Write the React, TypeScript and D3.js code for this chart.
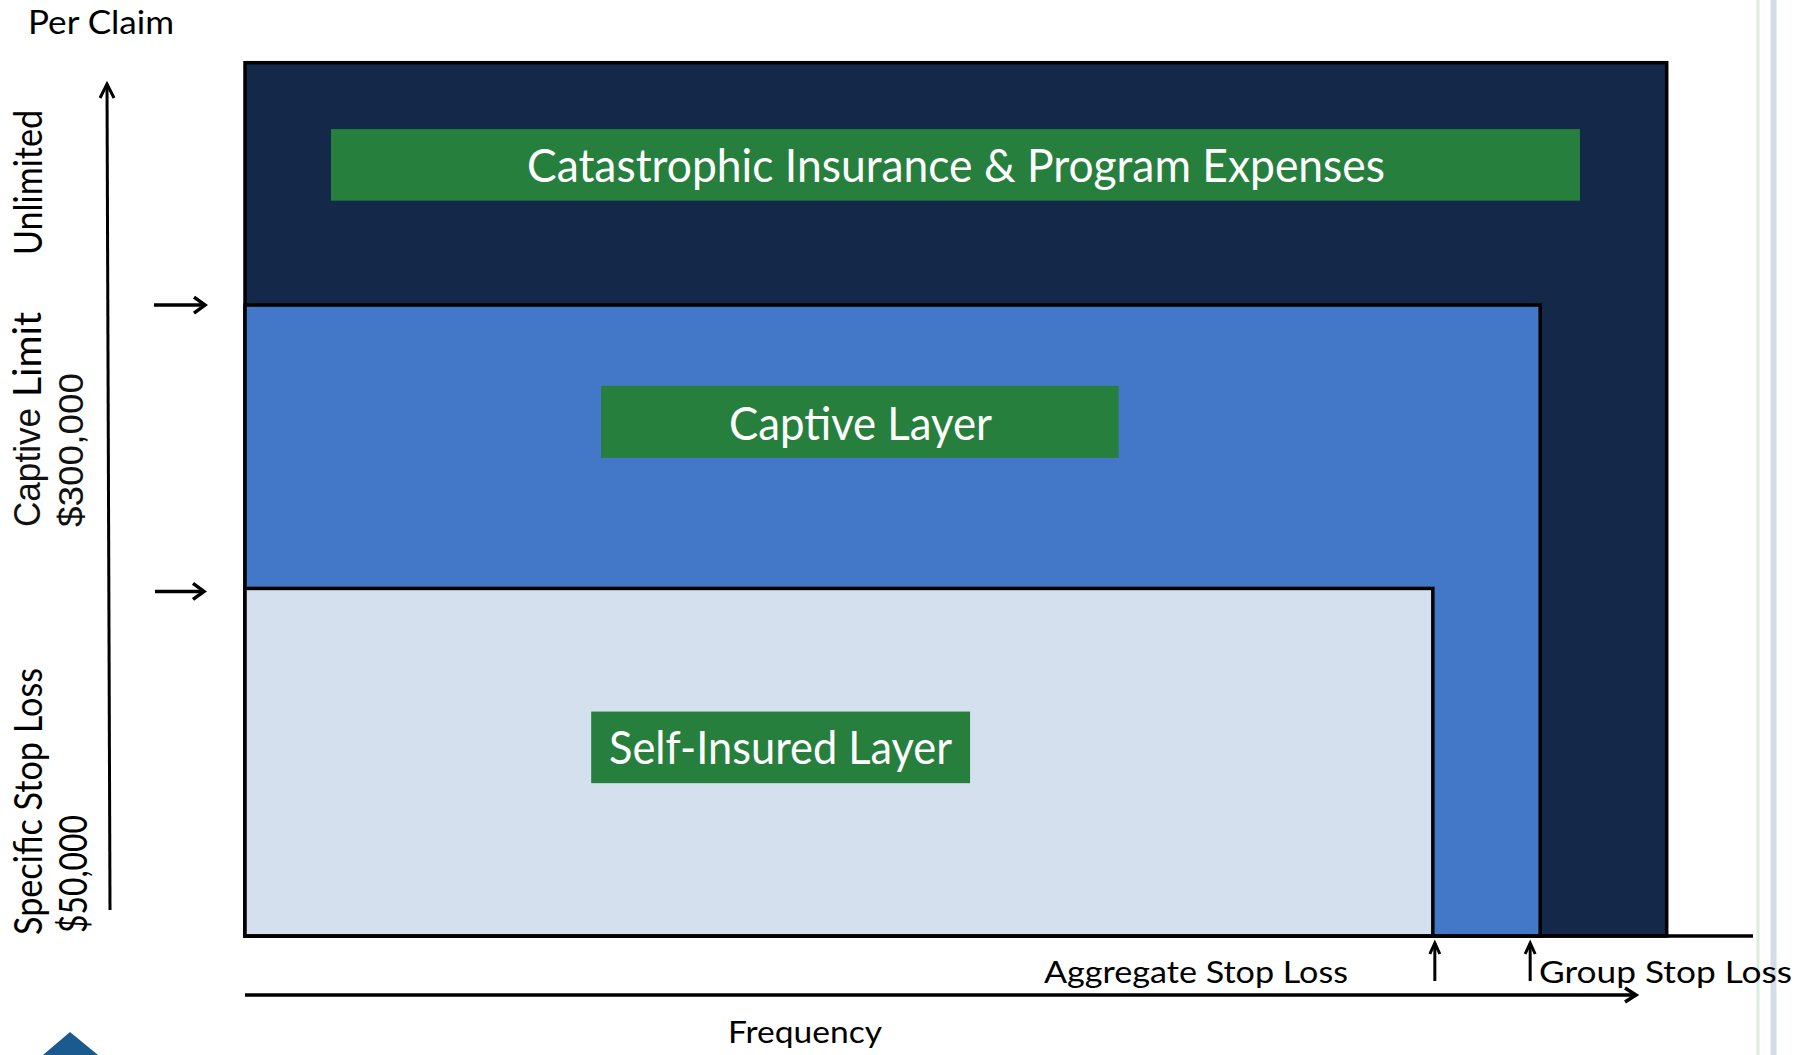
import { useEffect, useRef } from 'react'
import * as d3 from 'd3'

// layers, outermost first
const layerNames = ['Catastrophic Insurance & Program Expenses', 'Captive Layer', 'Self-Insured Layer']
const layerFrequencyEnd = [100, 91.1, 83.55] // share of frequency axis
const layerClaimTop = [100, 72.25, 39.8] // share of per-claim axis
const layerColors = ['#14284a', '#4378c9', '#d4e0ee']

const yAxisTitle = 'Per Claim'
const xAxisTitle = 'Frequency'
const aggregateLabel = 'Aggregate Stop Loss'
const groupLabel = 'Group Stop Loss'

const W = 1812
const H = 1055
const FONT = 'Lato, "Open Sans", sans-serif'
const HELV = '"Liberation Sans", Arial, sans-serif'

// label boxes in axis units: [x0, x1, yTop, yBottom]
const labelBoxes = [
  [6.05, 93.9, 92.4, 84.2],
  [25.05, 61.45, 63.0, 54.75],
  [24.35, 51.0, 25.7, 17.5],
]
// text placement inside boxes: [x, baseline, textLength]
const labelText = [
  [527, 182, 858],
  [729, 440, 263],
  [609, 764, 343],
]

export default function App() {
  const svgRef = useRef<SVGSVGElement>(null)

  useEffect(() => {
    if (!svgRef.current) return
    const svg = d3.select(svgRef.current)
    svg.selectAll('*').remove()

    const x = d3.scaleLinear().domain([0, 100]).range([245, 1666.7])
    const y = d3.scaleLinear().domain([0, 100]).range([936, 62.7])

    const drawArrow = (x1: number, y1: number, x2: number, y2: number, back = 11, half = 7, sw = 3.5) => {
      const ang = Math.atan2(y2 - y1, x2 - x1)
      const bx = x2 - back * Math.cos(ang)
      const by = y2 - back * Math.sin(ang)
      const px = -Math.sin(ang) * half
      const py = Math.cos(ang) * half
      svg.append('line')
        .attr('x1', x1).attr('y1', y1).attr('x2', x2).attr('y2', y2)
        .attr('stroke', '#000').attr('stroke-width', sw)
      svg.append('path')
        .attr('d', `M${bx + px},${by + py} L${x2},${y2} L${bx - px},${by - py}`)
        .attr('fill', 'none').attr('stroke', '#000').attr('stroke-width', sw)
        .attr('stroke-linejoin', 'miter')
    }

    // side decoration lines
    svg.append('rect').attr('x', 1756.5).attr('y', 0).attr('width', 3).attr('height', H).attr('fill', '#d9eee0')
    svg.append('rect').attr('x', 1770.5).attr('y', 0).attr('width', 6).attr('height', H).attr('fill', '#d3dde8')

    // nested layers
    layerNames.forEach((_, i) => {
      svg.append('rect')
        .attr('x', x(0))
        .attr('y', y(layerClaimTop[i]))
        .attr('width', x(layerFrequencyEnd[i]) - x(0))
        .attr('height', y(0) - y(layerClaimTop[i]))
        .attr('fill', layerColors[i])
        .attr('stroke', '#000')
        .attr('stroke-width', 3.5)
    })

    // base line
    svg.append('line')
      .attr('x1', x(0)).attr('x2', 1753).attr('y1', y(0)).attr('y2', y(0))
      .attr('stroke', '#000').attr('stroke-width', 3.5)

    // green label boxes
    labelBoxes.forEach((b, i) => {
      svg.append('rect')
        .attr('x', x(b[0])).attr('y', y(b[2]))
        .attr('width', x(b[1]) - x(b[0])).attr('height', y(b[3]) - y(b[2]))
        .attr('fill', '#267f3d')
      const [tx, ty, tl] = labelText[i]
      svg.append('text')
        .attr('x', tx).attr('y', ty)
        .attr('textLength', tl).attr('lengthAdjust', 'spacingAndGlyphs')
        .attr('font-family', FONT).attr('font-size', 46).attr('fill', '#fff')
        .text(layerNames[i])
    })

    // axes arrows
    drawArrow(110, 910, 107, 84, 14, 7, 3)
    drawArrow(x(0), 995, 1636, 995, 11, 7, 3.5)
    drawArrow(154, y(layerClaimTop[1]), 205, y(layerClaimTop[1]), 11, 8)
    drawArrow(155, y(layerClaimTop[2]) + 3, 204, y(layerClaimTop[2]) + 3, 11, 8)
    drawArrow(x(layerFrequencyEnd[2]) + 2, 981, x(layerFrequencyEnd[2]) + 2, 943, 11, 5, 3)
    drawArrow(x(layerFrequencyEnd[1]) - 10, 981, x(layerFrequencyEnd[1]) - 10, 943, 11, 5, 3)

    const label = (t: string, tx: number, ty: number, size: number, len: number, family = FONT, rot = false, fill = '#000') => {
      svg.append('text')
        .attr('transform', rot ? `translate(${tx},${ty}) rotate(-90)` : `translate(${tx},${ty})`)
        .attr('textLength', len).attr('lengthAdjust', 'spacingAndGlyphs')
        .attr('font-family', family).attr('font-size', size).attr('fill', fill)
        .text(t)
    }

    label(yAxisTitle, 28, 34, 32, 146)
    label('Unlimited', 42, 255, 38, 145, FONT, true)
    label('Captive', 40, 527, 36, 119, HELV, true, '#111')
    label('Limit', 41, 397, 38, 85, FONT, true)
    label('$300,000', 83, 527, 35, 154, HELV, true, '#111')
    label('Specific Stop Loss', 42, 935, 38, 267, FONT, true)
    label('$50,000', 87, 933, 38, 118, FONT, true)
    label(aggregateLabel, 1044, 983, 30, 304)
    label(groupLabel, 1539, 983, 30, 253)
    label(xAxisTitle, 728, 1043, 30, 154)

    // corner decoration
    svg.append('path').attr('d', 'M70,1032 L43,1055 L98,1055 Z').attr('fill', '#1b5a8e')
  }, [])

  return (
    <svg
      ref={svgRef}
      width={W}
      height={H}
      style={{ position: 'absolute', left: 0, top: 0, background: '#fff' }}
    />
  )
}
